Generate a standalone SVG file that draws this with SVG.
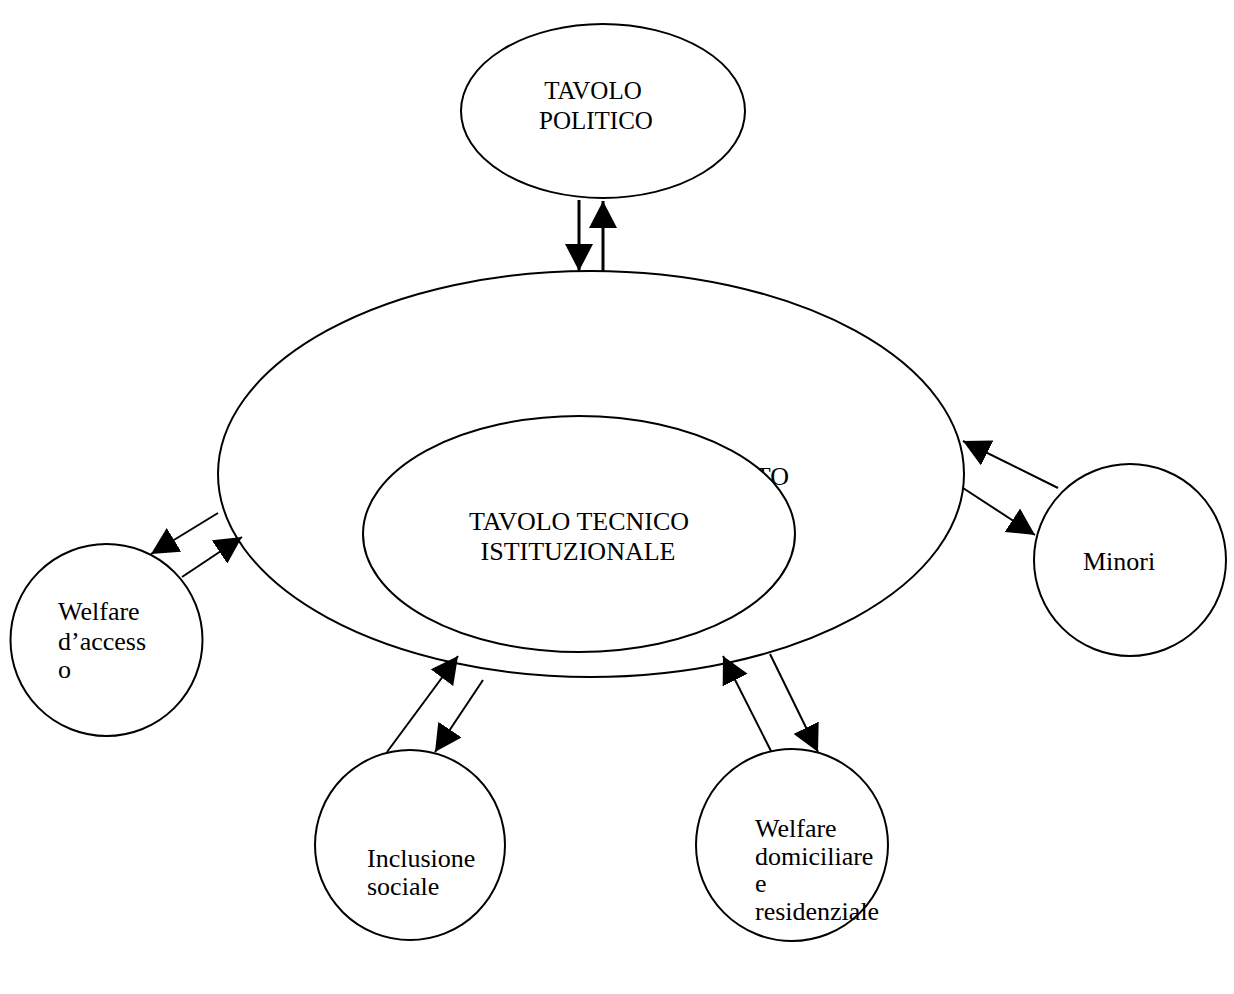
<svg xmlns="http://www.w3.org/2000/svg" width="1234" height="994" viewBox="0 0 1234 994">
<style>
.shape{fill:#fff;stroke:#000;stroke-width:2}
.t{font-family:"Liberation Serif","Times New Roman",serif;font-size:26px;fill:#000}
.c{text-anchor:middle}
.a{stroke:#000;stroke-width:2;fill:none;marker-end:url(#ah)}
.v{stroke-width:3}
</style>
<defs>
<marker id="ah" markerUnits="userSpaceOnUse" markerWidth="27" markerHeight="28" refX="27" refY="14" orient="auto">
<path d="M0,0 L27,14 L0,28 Z" fill="#000"/>
</marker>
</defs>
<rect width="1234" height="994" fill="#fff"/>
<g id="tavolo-politico">
<ellipse class="shape" cx="603" cy="111" rx="142" ry="87"/>
<text class="t c" x="593" y="99" style="font-size:25px">TAVOLO</text>
<text class="t c" x="596" y="129" style="font-size:25px">POLITICO</text>
</g>
<g id="tavolo-esterno">
<ellipse class="shape" cx="591" cy="474" rx="373" ry="203"/>
<text class="t" x="789" y="485" text-anchor="end">TO</text>
</g>
<g id="tavolo-tecnico">
<ellipse class="shape" cx="579" cy="534" rx="216" ry="118"/>
<text class="t c" x="579" y="530">TAVOLO TECNICO</text>
<text class="t c" x="578" y="560">ISTITUZIONALE</text>
</g>
<g id="welfare-accesso">
<circle class="shape" cx="106.5" cy="640" r="96"/>
<text class="t" x="58" y="620">Welfare</text>
<text class="t" x="58" y="650">d’access</text>
<text class="t" x="58" y="678">o</text>
</g>
<g id="minori">
<circle class="shape" cx="1130" cy="560" r="96"/>
<text class="t" x="1083" y="570">Minori</text>
</g>
<g id="inclusione-sociale">
<circle class="shape" cx="410" cy="845" r="95"/>
<text class="t" x="367" y="867">Inclusione</text>
<text class="t" x="367" y="895">sociale</text>
</g>
<g id="welfare-domiciliare">
<circle class="shape" cx="792" cy="845" r="96"/>
<text class="t" x="755" y="837">Welfare</text>
<text class="t" x="755" y="865">domiciliare</text>
<text class="t" x="755" y="892">e</text>
<text class="t" x="755" y="920">residenziale</text>
</g>
<g id="connectors">
<line class="a v" x1="579" y1="200" x2="579" y2="271"/>
<line class="a v" x1="603" y1="272" x2="603" y2="201"/>
<line class="a" x1="218" y1="513" x2="151" y2="554"/>
<line class="a" x1="182" y1="577" x2="242" y2="537"/>
<line class="a" x1="1058" y1="488" x2="963" y2="441"/>
<line class="a" x1="963" y1="488" x2="1035" y2="535"/>
<line class="a" x1="387" y1="752" x2="458" y2="656"/>
<line class="a" x1="483" y1="680" x2="435" y2="752"/>
<line class="a" x1="771" y1="751" x2="723" y2="656"/>
<line class="a" x1="770" y1="654" x2="818" y2="752"/>
</g>
</svg>
